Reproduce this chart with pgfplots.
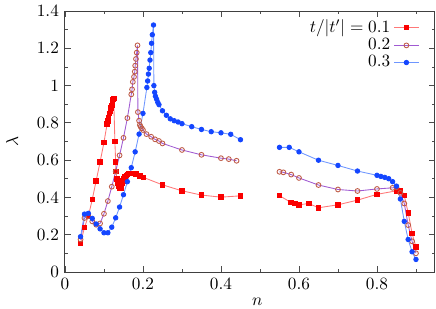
\documentclass[border=0pt]{standalone}
\usepackage{pgfplots}
\pgfplotsset{compat=1.18}
\definecolor{rmark}{RGB}{250,0,0}
\definecolor{rline}{RGB}{255,120,120}
\definecolor{pline}{RGB}{160,90,210}
\definecolor{pmark}{RGB}{190,90,70}
\definecolor{bmark}{RGB}{20,70,255}
\definecolor{bline}{RGB}{110,150,255}
\begin{document}
\begin{tikzpicture}
\begin{axis}[
  name=ax,
  scale only axis,
  width=214.7pt, height=151.5pt,
  xmin=0, xmax=0.9487, ymin=0, ymax=1.4,
  xtick={0,0.2,0.4,0.6,0.8},
  minor xtick={0.1,0.3,0.5,0.7,0.9},
  ytick={0,0.2,0.4,0.6,0.8,1,1.2,1.4},
  minor ytick={0.1,0.3,0.5,0.7,0.9,1.1,1.3},
  tick align=inside,
  major tick length=3.5pt, minor tick length=2pt,
  tick style={black!70, line width=0.5pt},
  axis line style={black!75, line width=0.6pt},
  xlabel={$n$}, ylabel={$\lambda$},
  xlabel style={at={(axis description cs:0.52,-0.115)}, anchor=center},
  ylabel style={at={(axis description cs:-0.143,0.5)}, anchor=center},
  unbounded coords=jump,
  legend style={draw=none, fill=none, at={(axis description cs:0.972,0.995)}, anchor=north east, row sep=-2pt},
  legend cell align=right,
  legend plot pos=right,
  legend image code/.code={\draw[mark repeat=2,mark phase=2] plot coordinates {(0cm,0cm)(0.25cm,0cm)(0.5cm,0cm)};},
]
\addplot[color=rline, line width=0.5pt, mark=square*, mark size=1.3pt, mark options={draw=rmark, fill=rmark}] table {
x y
0.040 0.155
0.050 0.240
0.060 0.300
0.070 0.390
0.080 0.490
0.090 0.590
0.100 0.695
0.108 0.795
0.110 0.810
0.112 0.830
0.114 0.850
0.116 0.865
0.118 0.880
0.120 0.895
0.122 0.910
0.123 0.925
0.125 0.930
0.128 0.700
0.130 0.590
0.131 0.540
0.133 0.500
0.135 0.478
0.137 0.462
0.139 0.453
0.141 0.450
0.143 0.452
0.145 0.462
0.147 0.476
0.149 0.490
0.151 0.500
0.154 0.510
0.157 0.518
0.160 0.524
0.164 0.528
0.169 0.530
0.175 0.528
0.182 0.526
0.192 0.517
0.201 0.508
0.250 0.468
0.300 0.436
0.350 0.413
0.400 0.402
0.450 0.409
nan nan
0.550 0.410
0.579 0.374
0.590 0.367
0.600 0.361
0.625 0.368
0.650 0.345
0.700 0.361
0.750 0.386
0.800 0.417
0.850 0.436
0.860 0.435
0.870 0.410
0.880 0.318
0.890 0.208
0.900 0.134
};
\addlegendentry{$t/|t'| = 0.1$}
\addplot[color=pline, line width=0.5pt, mark=o, mark size=1.4pt, mark options={draw=pmark, fill=none, line width=0.5pt}] table {
x y
0.040 0.175
0.050 0.290
0.060 0.300
0.070 0.272
0.080 0.254
0.090 0.261
0.100 0.313
0.110 0.381
0.120 0.458
0.130 0.540
0.140 0.626
0.150 0.720
0.160 0.826
0.170 0.953
0.172 0.980
0.174 1.020
0.177 1.047
0.179 1.075
0.180 1.107
0.182 1.143
0.184 1.177
0.186 1.216
0.187 0.858
0.190 0.812
0.192 0.789
0.194 0.780
0.197 0.771
0.200 0.762
0.209 0.740
0.221 0.726
0.231 0.712
0.241 0.703
0.250 0.690
0.300 0.655
0.350 0.629
0.400 0.611
0.420 0.606
0.440 0.597
nan nan
0.550 0.538
0.560 0.535
0.580 0.523
0.600 0.505
0.650 0.467
0.700 0.443
0.750 0.435
0.800 0.446
0.840 0.452
0.850 0.455
0.860 0.425
0.870 0.368
0.880 0.252
0.890 0.165
0.900 0.101
};
\addlegendentry{$0.2$}
\addplot[color=bline, line width=0.5pt, mark=*, mark size=1.3pt, mark options={draw=bmark, fill=bmark}] table {
x y
0.040 0.190
0.050 0.311
0.060 0.315
0.070 0.288
0.080 0.258
0.090 0.232
0.100 0.211
0.110 0.211
0.120 0.241
0.130 0.291
0.140 0.349
0.150 0.415
0.160 0.485
0.170 0.560
0.180 0.645
0.190 0.740
0.200 0.851
0.210 0.990
0.212 1.025
0.214 1.062
0.216 1.093
0.218 1.137
0.220 1.177
0.222 1.227
0.224 1.273
0.227 1.325
0.228 1.000
0.230 0.964
0.232 0.943
0.235 0.927
0.238 0.910
0.241 0.898
0.250 0.865
0.260 0.841
0.270 0.822
0.280 0.812
0.290 0.805
0.300 0.796
0.325 0.780
0.350 0.765
0.375 0.753
0.400 0.747
0.425 0.739
0.450 0.710
nan nan
0.550 0.669
0.575 0.669
0.600 0.645
0.650 0.600
0.700 0.572
0.750 0.542
0.800 0.519
0.810 0.513
0.820 0.508
0.830 0.501
0.840 0.485
0.850 0.461
0.860 0.392
0.870 0.272
0.880 0.175
0.890 0.109
0.900 0.068
};
\addlegendentry{$0.3$}
\end{axis}
\pgfresetboundingbox
\path ([xshift=-37.7pt,yshift=-20.9pt]ax.south west) rectangle ([xshift=0.6pt,yshift=6.4pt]ax.north east);
\end{tikzpicture}
\end{document}
